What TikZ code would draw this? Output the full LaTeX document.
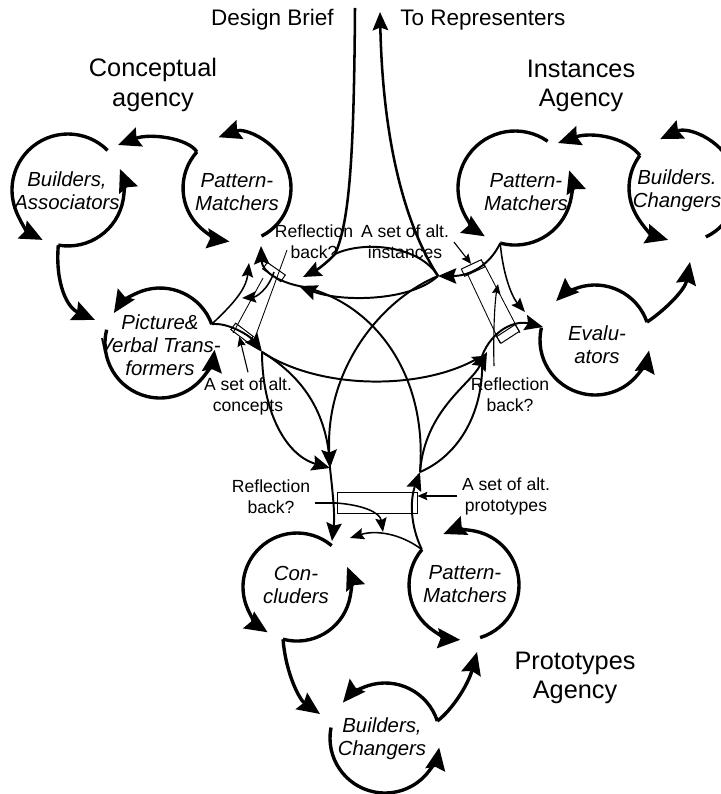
\documentclass[tikz,border=0pt]{standalone}
\usepackage{fontspec}
\setmainfont{Liberation Sans}
\usepackage{tikz}
\usetikzlibrary{arrows.meta}
\tikzstyle{agentarc} = [draw, line width=2.4pt, -{Stealth[length=16pt,width=14pt,inset=2pt]}]
\tikzstyle{netline} = [draw, line width=1.4pt]
\tikzstyle{netarrow} = [netline, -{Stealth[length=13pt,width=11pt,inset=2pt]}]
\tikzstyle{midarrow} = [draw, line width=1.1pt, -{Stealth[length=10pt,width=8pt,inset=1.5pt]}]
\tikzstyle{smallarrow} = [draw, line width=0.8pt, -{Stealth[length=7pt,width=6pt,inset=1pt]}]
\tikzstyle{thinline} = [draw, line width=0.6pt]
\tikzstyle{altbox} = [draw, line width=0.7pt, rectangle, inner sep=0pt, minimum width=0.55cm, minimum height=0.2cm]
\tikzstyle{agencytext} = [align=center, font=\fontsize{18}{21}\selectfont]
\tikzstyle{headtext} = [inner sep=0pt, font=\fontsize{16}{19}\selectfont]
\tikzstyle{agentlabel} = [align=center, font=\fontsize{14.5}{16.5}\selectfont\itshape]
\tikzstyle{notetext} = [align=center, font=\fontsize{12.5}{15}\selectfont]

\begin{document}
\begin{tikzpicture}[x=0.025cm,y=-0.025cm]
	\useasboundingbox (0,0) rectangle (721,794);

	% ------------------- Headings ------------------- %
	\node[agencytext] (concname) at (153,85) {Conceptual\\agency};
	\node[agencytext] (instname) at (581,86) {Instances\\Agency};
	\node[agencytext] (protname) at (575,678) {Prototypes\\Agency};
	\node[headtext, anchor=east] (brief) at (334,20) {Design Brief};
	\node[headtext, anchor=west] (repr) at (400,20) {To Representers};

	% ------------------- Agent labels ------------------- %
	\node[agentlabel] (cbuild) at (67,191) {Builders,\\Associators};
	\node[agentlabel] (cmatch) at (237,192) {Pattern-\\Matchers};
	\node[agentlabel] (ctrans) at (160,345) {Picture\&\\Verbal Trans-\\formers};
	\node[agentlabel] (imatch) at (526,192) {Pattern-\\Matchers};
	\node[agentlabel] (ibuild) at (677,191) {Builders.\\Changers};
	\node[agentlabel] (ieval) at (597,345) {Evalu-\\ators};
	\node[agentlabel] (pconc) at (296,585) {Con-\\cluders};
	\node[agentlabel] (pmatch) at (465,584) {Pattern-\\Matchers};
	\node[agentlabel] (pbuild) at (382,739) {Builders,\\Changers};

	% ------------------- Notes ------------------- %
	\node[notetext] (crefl) at (314,242) {Reflection\\back?};
	\node[notetext] (iset) at (405,242) {A set of alt.\\instances};
	\node[notetext] (cset) at (248,396) {A set of alt.\\concepts};
	\node[notetext] (irefl) at (510,395) {Reflection\\back?};
	\node[notetext] (prefl) at (271,497) {Reflection\\back?};
	\node[notetext] (pset) at (506,496) {A set of alt.\\prototypes};

	% ------------------- Agent centres and outlets ------------------- %
	\coordinate (c1) at (68,190);
	\coordinate (c2) at (237,188);
	\coordinate (c3) at (160,343);
	\coordinate (i1) at (515,188);
	\coordinate (i2) at (683,188);
	\coordinate (i3) at (595,340);
	\coordinate (p1) at (297,587);
	\coordinate (p2) at (464,585);
	\coordinate (p3) at (385,738);

	\coordinate (c1out) at (58.3,245.1);
	\coordinate (c2out) at (196.9,151.9);
	\coordinate (c3out) at (211.7,324.2);
	\coordinate (i1out) at (500.2,243.1);
	\coordinate (i2out) at (639.9,155.5);
	\coordinate (i3out) at (647,322.1);
	\coordinate (p1out) at (283,639.2);
	\coordinate (p2out) at (421.9,549.6);
	\coordinate (p3out) at (437.3,721);

	\coordinate (c1in) at (118,145);
	\coordinate (c3in) at (95,320);
	\coordinate (i1in) at (558,143);
	\coordinate (i2in) at (690,262);
	\coordinate (p1in) at (350,538);
	\coordinate (p3in) at (320,714);
	\coordinate (p2in) at (477,652);

	% ------------------- Agent loops ------------------- %
	\draw[agentarc] (c1) ++(-45:56) arc[start angle=-45, end angle=-243, radius=56];
	\draw[agentarc] (c1out) arc[start angle=100, end angle=-22, radius=56];
	\draw[agentarc] (c2) ++(63:54) arc[start angle=63, end angle=-110, radius=54];
	\draw[agentarc] (c2out) arc[start angle=-138, end angle=-262, radius=54];
	\draw[agentarc] (c3out) arc[start angle=-20, end angle=-147, radius=55];
	\draw[agentarc] (c3) ++(194:55) arc[start angle=194, end angle=7, radius=55];

	\draw[agentarc] (i1) ++(-55:57) arc[start angle=-55, end angle=-238, radius=57];
	\draw[agentarc] (i1out) arc[start angle=105, end angle=-18, radius=57];
	\draw[agentarc] (i2) ++(65:54) arc[start angle=65, end angle=-115, radius=54];
	\draw[agentarc] (i2out) arc[start angle=-143, end angle=-254, radius=54];
	\draw[agentarc] (i3out) arc[start angle=-19, end angle=-135, radius=55];
	\draw[agentarc] (i3) ++(193:55) arc[start angle=193, end angle=11, radius=55];

	\draw[agentarc] (p1) ++(-50:54) arc[start angle=-50, end angle=-237, radius=54];
	\draw[agentarc] (p1out) arc[start angle=105, end angle=-22, radius=54];
	\draw[agentarc] (p2) ++(73:55) arc[start angle=73, end angle=-112, radius=55];
	\draw[agentarc] (p2out) arc[start angle=-140, end angle=-266, radius=55];
	\draw[agentarc] (p3out) arc[start angle=-18, end angle=-140, radius=55];
	\draw[agentarc] (p3) ++(191:55) arc[start angle=191, end angle=10, radius=55];

	% links inside each agency
	\draw[agentarc] (c2out) .. controls (188,138) and (150,133) .. (c1in);
	\draw[agentarc] (c1out) .. controls (55,285) and (68,308) .. (c3in);
	\draw[agentarc] (i2out) .. controls (625,136) and (590,132) .. (i1in);
	\draw[agentarc] (i3out) .. controls (665,310) and (685,290) .. (i2in);
	\draw[agentarc] (p1out) .. controls (286,675) and (300,700) .. (p3in);
	\draw[agentarc] (p3out) .. controls (452,710) and (468,685) .. (p2in);
	\draw[midarrow] (p2out) .. controls (400,533) and (375,530) .. (p1in);

	% ------------------- Hubs ------------------- %
	\coordinate (ctop) at (299,286);
	\coordinate (clow) at (262,352);
	\coordinate (itop) at (438,276);
	\coordinate (ilow) at (482,356);
	\coordinate (pleft) at (330,468);
	\coordinate (pright) at (420,472);

	\coordinate (briefstart) at (355,8);
	\coordinate (briefend) at (335,254);
	\coordinate (cjoin) at (303,277);
	\coordinate (reprend) at (380,12);

	% ------------------- Brief and output ------------------- %
	\draw[netarrow, line width=1.8pt] (briefstart) .. controls (354,150) and (350,222) .. (briefend) .. controls (326,264) and (315,271) .. (cjoin);
	\draw[netarrow, line width=1.8pt] (itop) .. controls (408,230) and (383,150) .. (reprend);

	% ------------------- Network between agencies ------------------- %
	\draw[netline] (itop) .. controls (420,246) and (365,240) .. (briefend);
	\draw[netarrow] (itop) .. controls (410,302) and (340,302) .. (ctop);
	\draw[netline] (ctop) .. controls (370,300) and (428,370) .. (pright);
	\draw[netarrow] (itop) .. controls (380,300) and (325,370) .. (pleft);
	\draw[smallarrow, line width=1.4pt] (clow) .. controls (320,390) and (420,390) .. (ilow);
	\draw[netarrow] (clow) .. controls (262,410) and (285,455) .. (pleft);
	\draw[netline] (clow) .. controls (300,375) and (328,410) .. (pleft);
	\draw[netline] (ilow) .. controls (485,410) and (460,455) .. (pright);
	\draw[netarrow] (pright) .. controls (425,410) and (470,385) .. (487,352);

	% ------------------- Conceptual side ------------------- %
	\node[altbox, rotate=-35] (cboxa) at (274,272) {};
	\node[altbox, rotate=-37] (cboxb) at (242,333) {};
	\draw[thinline] (287,250) -- (253,343);
	\draw[thinline] (263,278) -- (233,333);
	\draw[netarrow] (c3out) .. controls (228,322) and (250,336) .. (clow);
	\draw[midarrow] (c3out) .. controls (232,305) and (246,290) .. (249,263);
	\draw[netarrow] (ctop) .. controls (280,282) and (262,272) .. (261,246);
	\draw[midarrow] (cboxa.center) .. controls (268,290) and (256,297) .. (242,298);
	\draw[smallarrow] (cset.north) -- (cboxb.south);

	% ------------------- Instances side ------------------- %
	\node[altbox, rotate=25] (iboxa) at (473,268) {};
	\node[altbox, rotate=33] (iboxb) at (508,334) {};
	\draw[thinline] (467,273) -- (500,343);
	\draw[thinline] (483,262) -- (520,333);
	\draw[netarrow] (i1out) .. controls (490,265) and (470,276) .. (itop);
	\draw[midarrow] (i1out) .. controls (503,275) and (512,297) .. (525,312);
	\draw[netarrow] (ilow) .. controls (492,330) and (515,320) .. (543,327);
	\draw[smallarrow] (494,366) .. controls (493,330) and (495,300) .. (498,284);
	\draw[smallarrow] (iset.east) -- (iboxa.north);

	% ------------------- Prototypes side ------------------- %
	\node[draw, line width=0.7pt, minimum width=2cm, minimum height=0.525cm] (pbox) at (377,503) {};
	\draw[netarrow] (pleft) .. controls (333,495) and (335,515) .. (332,541);
	\draw[netarrow] (p2out) .. controls (410,525) and (410,500) .. (pright);
	\draw[midarrow] (prefl.east |- pbox.west) -- (pbox.west) .. controls (362,505) and (380,512) .. (383,532);
	\draw[smallarrow] (pset.west) -- (pset.west -| pbox.east);
\end{tikzpicture}
\end{document}
